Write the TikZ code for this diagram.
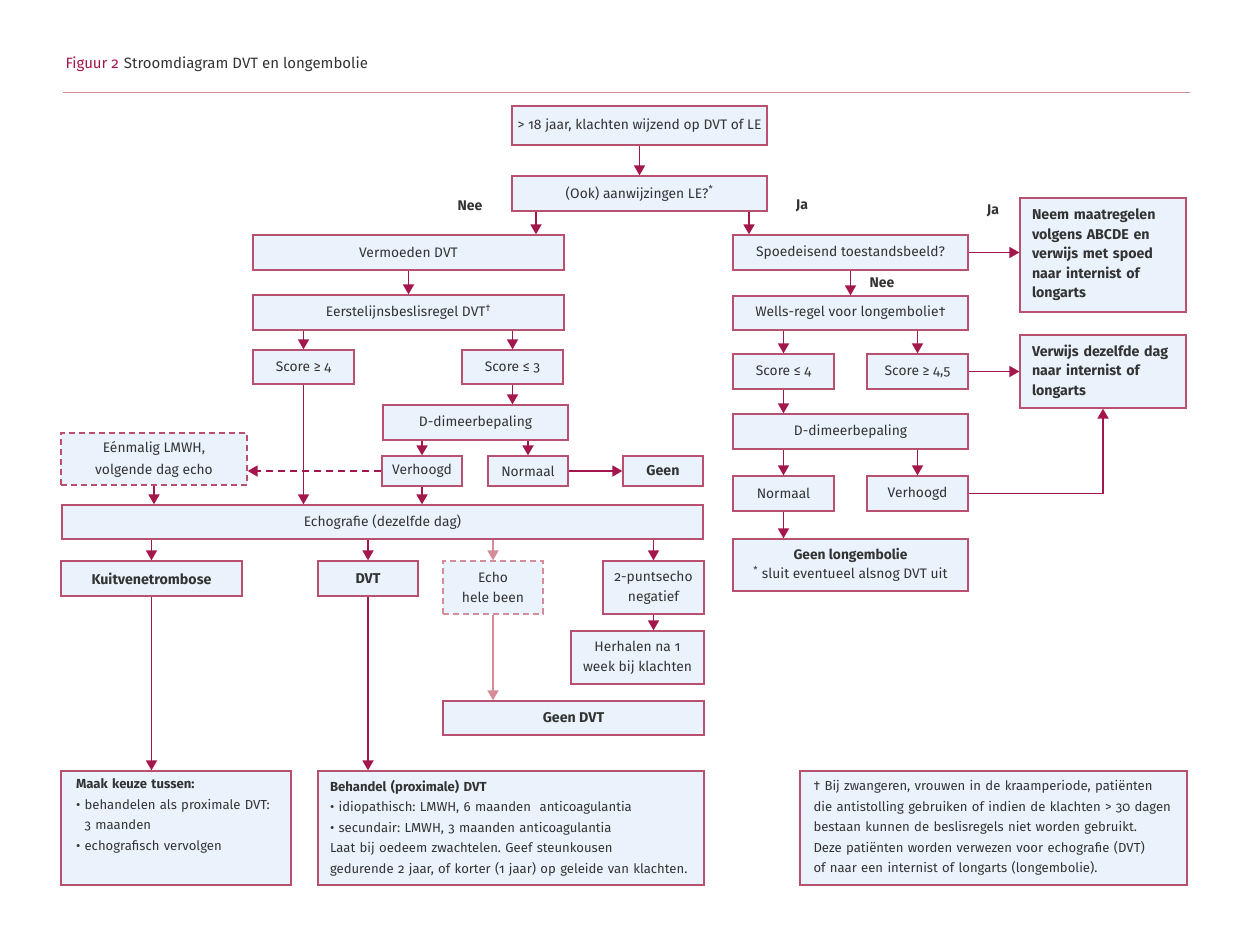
\documentclass[tikz,border=0pt]{standalone}
\usepackage{fontspec}
\setmainfont{Fira Sans}[Numbers=OldStyle]
\usetikzlibrary{arrows.meta}
\frenchspacing

\definecolor{arrowred}{HTML}{A3174C}
\definecolor{boxline}{HTML}{B9506F}
\definecolor{boxfill}{HTML}{EAF3FC}
\definecolor{paleline}{HTML}{D58C99}
\definecolor{textgray}{HTML}{333333}

\begin{document}
\begin{tikzpicture}[
            x = 1pt, y = -1pt, % pixel grid, y downwards
            > = {Triangle[length=10pt, width=11pt]}, % arrow head style
            font = \fontsize{13.8}{20}\selectfont,
            text = textgray
        ]

        \tikzstyle{box}=[
            draw = boxline,
            line width = 1.3pt,
            fill = boxfill,
            inner sep = 0pt,
            align = center,
            minimum height = 35pt
        ]
        \tikzstyle{bold}=[font = \fontsize{14.2}{20}\selectfont\bfseries]
        \tikzstyle{note}=[font = \fontsize{13.1}{20.6}\selectfont]
        \tikzstyle{flow}=[->, draw = arrowred, line width = 1.8pt]
        \tikzstyle{pale}=[->, draw = paleline, line width = 1.8pt]
        \tikzstyle{lab}=[font = \fontsize{14}{16}\selectfont\bfseries]

        \useasboundingbox (0,0) rectangle (1240,930);

        % header
        \node[anchor = base west, font = \fontsize{15}{18}\selectfont] (title) at (62,68)
            {{\color{arrowred}Figuur 2}\hspace{5pt}Stroomdiagram DVT en longembolie};
        \draw[paleline, line width = 1pt] (63,92) -- (1190,92);

        % top
        \node[box, minimum width = 255, minimum height = 39] (start) at (639.5,125.5) {> 18 jaar, klachten wijzend op DVT of LE};
        \node[box, minimum width = 255] (ook) at (639.5,193.5) {(Ook) aanwijzingen LE?\textsuperscript{*}};
        \coordinate (xnee) at (536,0);
        \coordinate (xja) at (749,0);

        % DVT branch
        \node[box, minimum width = 311] (verm) at (408.5,252.5) {Vermoeden DVT};
        \node[box, minimum width = 311] (eerst) at (408.5,312.5) {Eerstelijnsbeslisregel DVT\textsuperscript{†}};
        \node[box, minimum width = 101, minimum height = 34] (sc4) at (303.5,367) {Score ≥ 4};
        \node[box, minimum width = 101, minimum height = 34] (sc3) at (512.5,367) {Score ≤ 3};
        \node[box, minimum width = 185] (ddim) at (475.5,422.5) {D-dimeerbepaling};
        \node[box, minimum width = 80, minimum height = 30] (verh) at (422,471) {Verhoogd};
        \node[box, minimum width = 80, minimum height = 30] (norm) at (528,471) {Normaal};
        \node[box, bold, minimum width = 80, minimum height = 30] (geen) at (663,471) {Geen};
        \node[box, dash pattern = on 6pt off 4pt, minimum width = 186, minimum height = 52] (eenm) at (154,459) {Eénmalig LMWH,\\[2pt]volgende dag echo};
        \node[box, minimum width = 641, minimum height = 34] (echo) at (382.5,522) {Echografie (dezelfde dag)};

        \node[box, bold, minimum width = 181] (kuit) at (151.5,578.5) {Kuitvenetrombose};
        \node[box, bold, minimum width = 100] (dvt) at (368,578.5) {DVT};
        \node[box, draw = paleline, dash pattern = on 6pt off 4pt, minimum width = 100, minimum height = 53] (heel) at (493,587.5) {Echo\\hele been};
        \node[box, minimum width = 101, minimum height = 53] (twop) at (653.5,587.5) {2-puntsecho\\negatief};
        \node[box, minimum width = 133, minimum height = 53] (herh) at (637.5,657.5) {Herhalen na 1\\week bij klachten};
        \node[box, bold, minimum width = 261, minimum height = 34] (geendvt) at (573.5,718) {Geen DVT};

        \node[box, note, minimum width = 230, minimum height = 114, text width = 200, align = left] (maak) at (176,828)
            {\textbf{Maak keuze tussen:}\\
             • behandelen als proximale DVT:\\
             \hphantom{• }3 maanden\\
             • echografisch vervolgen\\
             \strut};
        \node[box, note, minimum width = 386, minimum height = 114, text width = 362, align = left] (behand) at (511,828)
            {\textbf{Behandel (proximale) DVT}\\
             • idiopathisch: LMWH, 6 maanden\ \ anticoagulantia\\
             • secundair: LMWH, 3 maanden anticoagulantia\\
             Laat bij oedeem zwachtelen. Geef steunkousen\\
             gedurende 2 jaar, of korter (1 jaar) op geleide van klachten.};
        \node[box, note, minimum width = 387, minimum height = 114, text width = 360, align = left] (noot) at (993.5,828)
            {† Bij zwangeren, vrouwen in de kraamperiode, patiënten\\
             die antistolling gebruiken of indien de klachten > 30 dagen\\
             bestaan kunnen de beslisregels niet worden gebruikt.\\
             Deze patiënten worden verwezen voor echografie (DVT)\\
             of naar een internist of longarts (longembolie).};

        % LE branch
        \node[box, minimum width = 235] (spoed) at (850.5,252.5) {Spoedeisend toestandsbeeld?};
        \node[box, minimum width = 166, minimum height = 114, text width = 142, align = left,
              font = \fontsize{14.2}{19.5}\selectfont\bfseries] (neem) at (1103,255)
            {Neem maatregelen\\volgens ABCDE en\\verwijs met spoed\\naar internist of\\longarts};
        \node[box, minimum width = 235, minimum height = 34] (wells) at (850.5,313) {Wells-regel voor longembolie†};
        \node[box, minimum width = 101] (scl4) at (783.5,371.5) {Score ≤ 4};
        \node[box, minimum width = 101] (sc45) at (917.5,371.5) {Score ≥ 4,5};
        \node[box, minimum width = 166, minimum height = 73, text width = 142, align = left,
              font = \fontsize{14.2}{19.5}\selectfont\bfseries] (verw) at (1103,371.5)
            {Verwijs dezelfde dag\\naar internist of\\longarts};
        \node[box, minimum width = 235] (ddimr) at (850.5,431.5) {D-dimeerbepaling};
        \node[box, minimum width = 101] (normr) at (783.5,493.5) {Normaal};
        \node[box, minimum width = 101] (verhr) at (917.5,493.5) {Verhoogd};
        \node[box, minimum width = 235, minimum height = 52, font = \fontsize{13.8}{19}\selectfont] (geenle) at (850.5,565)
            {\textbf{Geen longembolie}\\\textsuperscript{*} sluit eventueel alsnog DVT uit};

        % labels
        \node[lab] (nee1) at (470,206) {Nee};
        \node[lab] (ja1) at (802,206) {Ja};
        \node[lab] (ja2) at (993,211) {Ja};
        \node[lab] (nee2) at (882,283) {Nee};

        % connectors
        \draw[flow] (start) -- (ook);
        \draw[flow] (ook.south -| xnee) -- (verm.north -| xnee);
        \draw[flow] (ook.south -| xja) -- (spoed.north -| xja);

        \draw[flow] (verm) -- (eerst);
        \draw[flow] (eerst.south -| sc4.north) -- (sc4.north);
        \draw[flow] (eerst.south -| sc3.north) -- (sc3.north);
        \draw[flow] (sc3.south) -- (sc3.south |- ddim.north);
        \draw[flow] (ddim.south -| verh.north) -- (verh.north);
        \draw[flow] (ddim.south -| norm.north) -- (norm.north);
        \draw[flow] (norm.east) -- (geen.west);
        \draw[flow, dash pattern = on 7pt off 5pt] (verh.west) -- (verh.west -| eenm.east);
        \draw[flow] (eenm.south) -- (eenm.south |- echo.north);
        \draw[flow] (sc4.south) -- (sc4.south |- echo.north);
        \draw[flow] (verh.south) -- (verh.south |- echo.north);

        \draw[flow] (echo.south -| kuit.north) -- (kuit.north);
        \draw[flow] (echo.south -| dvt.north) -- (dvt.north);
        \draw[pale] (echo.south -| heel.north) -- (heel.north);
        \draw[flow] (echo.south -| twop.north) -- (twop.north);
        \draw[flow] (twop.south) -- (twop.south |- herh.north);
        \draw[pale] (heel.south) -- (heel.south |- geendvt.north);
        \draw[flow] (kuit.south) -- (kuit.south |- maak.north);
        \draw[flow] (dvt.south) -- (dvt.south |- behand.north);

        \draw[flow] (spoed.east) -- (spoed.east -| neem.west);
        \draw[flow] (spoed) -- (wells);
        \draw[flow] (wells.south -| scl4.north) -- (scl4.north);
        \draw[flow] (wells.south -| sc45.north) -- (sc45.north);
        \draw[flow] (sc45.east) -- (sc45.east -| verw.west);
        \draw[flow] (scl4.south) -- (scl4.south |- ddimr.north);
        \draw[flow] (ddimr.south -| normr.north) -- (normr.north);
        \draw[flow] (ddimr.south -| verhr.north) -- (verhr.north);
        \draw[flow] (normr.south) -- (normr.south |- geenle.north);
        \draw[flow] (verhr.east) -| (verw.south);

  \end{tikzpicture}
\end{document}
